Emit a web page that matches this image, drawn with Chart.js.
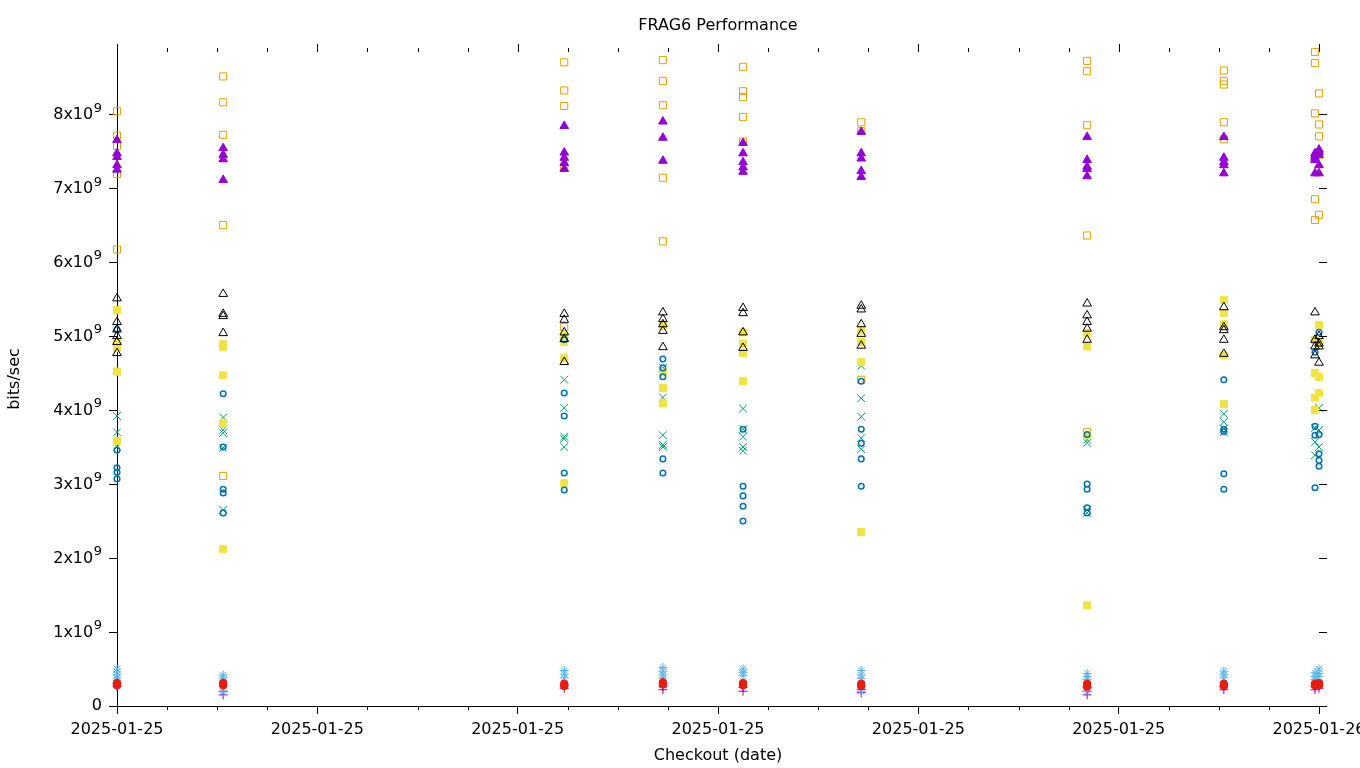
<!DOCTYPE html>
<html><head><meta charset="utf-8">
<script src="https://cdn.jsdelivr.net/npm/chart.js@4.4.0/dist/chart.umd.min.js"></script>
<style>html,body{margin:0;padding:0;background:#fff;overflow:hidden;}</style>
</head><body>
<canvas id="c" width="1360" height="768"></canvas>
<script>
// ---- text ----
const chartTitle = 'FRAG6 Performance';
const xAxisTitle = 'Checkout (date)';
const yAxisTitle = 'bits/sec';
const xTickLabels = ['2025-01-25','2025-01-25','2025-01-25','2025-01-25','2025-01-25','2025-01-25','2025-01-26'];
const yTickLabels = ['0','1x10^9','2x10^9','3x10^9','4x10^9','5x10^9','6x10^9','7x10^9','8x10^9'];

// ---- checkout times (hours after 2025-01-25 00:00) ----
const checkoutHours = [0, 2.12, 8.93, 10.9, 12.5, 14.86, 19.37, 22.1, 23.92, 24];

// ---- series values per checkout (units of 1e9 bits/sec) ----
const purplePlus = [[0.26,0.3],[0.15,0.2],[0.24,0.28],[0.22,0.26],[0.25,0.2],[0.22,0.18],[0.2,0.15,0.25],[0.22,0.26],[0.22,0.26],[0.24,0.28]];
const greenCross = [[3.92,3.70,3.5],[3.9,3.73,3.69,3.49,2.65],[4.41,4.03,3.64,3.61,3.5],[4.57,4.17,3.66,3.53,3.5],[4.02,3.74,3.64,3.5,3.45],[4.6,4.16,3.91,3.62,3.47],[3.6,3.56,2.65,2.61],[3.95,3.84,3.75,3.7],[3.76,3.57,3.39],[4.03,3.73,3.5]];
const skyStar = [[0.5,0.46,0.42,0.38,0.35],[0.42,0.38,0.35,0.19],[0.48,0.43,0.38],[0.52,0.47,0.42,0.38],[0.5,0.45,0.41],[0.48,0.42,0.37,0.2],[0.44,0.4,0.36,0.2],[0.47,0.42,0.38],[0.45,0.4,0.36],[0.5,0.44,0.4]];
const orangeSquare = [[8.04,7.71,7.57,7.19,6.17],[8.51,8.16,7.72,6.5,3.11],[8.70,8.32,8.11,7.28,5.12],[8.73,8.45,8.12,7.14,6.28],[8.64,8.31,8.23,7.96,7.63],[7.89,7.77,4.41],[8.72,8.58,7.85,6.36,3.70],[8.59,8.45,8.4,7.89,7.66],[8.84,8.69,8.01,6.85,6.57],[8.28,7.86,7.7,7.45,6.64]];
const yellowSquare = [[5.35,4.9,4.84,4.52,3.58],[4.89,4.85,4.47,3.82,2.12],[5.0,4.92,4.7,3.01],[5.14,4.51,4.3,4.09],[5.05,4.9,4.77,4.39],[5.08,4.92,4.65,2.35],[5.04,4.86,3.66,1.36],[5.49,5.31,5.16,4.74,4.08],[4.95,4.5,4.17,4.0],[5.15,4.9,4.45,4.23]];
const blueCircle = [[5.09,3.46,3.22,3.16,3.07],[4.22,3.5,2.93,2.88,2.61],[4.95,4.23,3.92,3.15,2.92],[4.69,4.57,4.45,3.34,3.15],[3.74,2.97,2.84,2.7,2.5],[4.39,3.74,3.55,3.34,2.97],[3.67,3.0,2.93,2.68,2.61],[4.41,3.74,3.71,3.14,2.93],[4.78,3.78,3.66,2.95],[5.05,3.67,3.41,3.32,3.24]];
const redDot = [[0.31,0.28],[0.31,0.28],[0.3,0.27],[0.32,0.29],[0.31,0.28],[0.3,0.27],[0.3,0.26],[0.3,0.27],[0.3,0.28],[0.31,0.28]];
const blackTriangle = [[5.51,5.19,5.09,5.0,4.92,4.77],[5.57,5.3,5.27,5.04],[5.3,5.22,5.05,4.96,4.65],[5.32,5.23,5.16,5.07,4.85],[5.38,5.31,5.05,4.84],[5.41,5.36,5.16,5.03,4.87],[5.44,5.28,5.19,5.1,4.95],[5.39,5.12,5.08,4.95,4.76],[5.32,4.95,4.86,4.74],[5.0,4.9,4.86,4.64]];
const purpleTriangle = [[7.65,7.47,7.42,7.31,7.25],[7.54,7.45,7.39,7.11],[7.84,7.48,7.41,7.34,7.26],[7.9,7.68,7.37],[7.61,7.47,7.35,7.28,7.22],[7.76,7.47,7.4,7.23,7.15],[7.69,7.38,7.29,7.26,7.16],[7.69,7.41,7.35,7.31,7.2],[7.47,7.44,7.41,7.38,7.2],[7.52,7.49,7.45,7.31,7.2]];

const yMax = 8.84;

function toPoints(cols) {
  return cols.flatMap((vals, i) => vals.map(v => ({x: checkoutHours[i], y: v})));
}

const seriesDefs = [
  {label:'Series 1', data: purplePlus,     style:'cross',    r:4.5, color:'#9400d3', fill:false},
  {label:'Series 2', data: greenCross,     style:'crossRot', r:5.5, color:'#009e73', fill:false},
  {label:'Series 3', data: skyStar,        style:'star',     r:4.5, color:'#56b4e9', fill:false},
  {label:'Series 4', data: orangeSquare,   style:'rect',     r:5,   color:'#e69f00', fill:false},
  {label:'Series 5', data: yellowSquare,   style:'rect',     r:5,   color:'#f0e442', fill:true},
  {label:'Series 6', data: blueCircle,     style:'circle',   r:2.8, color:'#0072b2', fill:false},
  {label:'Series 7', data: redDot,         style:'circle',   r:3.8, color:'#e51e10', fill:true},
  {label:'Series 8', data: blackTriangle,  style:'triangle', r:5,   color:'#000000', fill:false},
  {label:'Series 9', data: purpleTriangle, style:'triangle', r:5,   color:'#9400d3', fill:true}
];

const datasets = seriesDefs.map((s, i) => ({
  label: s.label,
  data: toPoints(s.data),
  showLine: false,
  pointStyle: s.style,
  pointRadius: s.r,
  pointHoverRadius: s.r,
  borderColor: s.color,
  backgroundColor: s.fill ? s.color : 'rgba(0,0,0,0)',
  borderWidth: s.style === 'circle' && !s.fill ? 1.5 : 1,
  order: seriesDefs.length - i,
  clip: false
}));

const FONT = "'DejaVu Sans', sans-serif";

const decorations = {
  id: 'decorations',
  afterDraw(chart) {
    const {ctx, chartArea: a, scales: {x, y}} = chart;
    ctx.save();
    // mirrored / minor ticks
    ctx.strokeStyle = '#000';
    ctx.lineWidth = 1;
    ctx.beginPath();
    for (let h = 0; h <= 24; h += 1) {
      const px = Math.round(x.getPixelForValue(h)) + 0.5;
      const major = h % 4 === 0;
      ctx.moveTo(px, a.top);
      ctx.lineTo(px, a.top - (major ? 8 : 4));
      if (!major) { ctx.moveTo(px, a.bottom); ctx.lineTo(px, a.bottom + 4); }
    }
    y.ticks.forEach(t => {
      const py = Math.round(y.getPixelForValue(t.value)) + 0.5;
      ctx.moveTo(a.right, py);
      ctx.lineTo(a.right + 8, py);
    });
    ctx.stroke();
    // title centred over the plot area
    ctx.fillStyle = '#000';
    ctx.font = '16px ' + FONT;
    ctx.textAlign = 'center';
    ctx.textBaseline = 'middle';
    ctx.fillText(chartTitle, (a.left + a.right) / 2, 26);
    // y tick labels with superscript exponent
    ctx.textBaseline = 'middle';
    y.ticks.forEach(t => {
      const label = yTickLabels[Math.round(t.value)];
      if (label === undefined) return;
      const py = y.getPixelForValue(t.value);
      const [base, exp] = label.split('^');
      const right = a.left - 15;
      ctx.textAlign = 'right';
      if (exp) {
        ctx.font = '13px ' + FONT;
        const ew = ctx.measureText(exp).width;
        ctx.fillText(exp, right, py - 6);
        ctx.font = '16px ' + FONT;
        ctx.fillText(base, right - ew - 0.5, py + 1);
      } else {
        ctx.font = '16px ' + FONT;
        ctx.fillText(base, right, py);
      }
    });
    ctx.restore();
  }
};

Chart.defaults.font.family = FONT;
Chart.defaults.font.size = 16;
Chart.defaults.color = '#000';

new Chart(document.getElementById('c'), {
  type: 'scatter',
  data: { datasets },
  options: {
    responsive: false,
    animation: false,
    events: [],
    layout: { padding: { left: 0, right: 41, top: 52, bottom: 0 } },
    plugins: {
      legend: { display: false },
      tooltip: { enabled: false },
      title: { display: false }
    },
    scales: {
      x: {
        type: 'linear', position: 'bottom', min: 0, max: 24,
        ticks: { stepSize: 4, autoSkip: false, maxRotation: 0, padding: 6, color: '#000',
                 callback: v => xTickLabels[Math.round(v / 4)] ?? '' },
        grid: { display: true, drawOnChartArea: false, drawTicks: true, tickLength: 8, tickColor: '#000', lineWidth: 1 },
        border: { display: true, color: '#000', width: 1 },
        title: { display: true, text: xAxisTitle, color: '#000', padding: { top: 0, bottom: 3 } },
        afterFit: s => { s.height = 62; s.paddingLeft = 0; s.paddingRight = 0; }
      },
      y: {
        type: 'linear', position: 'left', min: 0, max: yMax,
        ticks: { stepSize: 1, includeBounds: false, padding: 6, color: 'rgba(0,0,0,0)',
                 callback: v => yTickLabels[Math.round(v)] ?? '' },
        grid: { display: true, drawOnChartArea: false, drawTicks: true, tickLength: 8, tickColor: '#000', lineWidth: 1 },
        border: { display: true, color: '#000', width: 1 },
        title: { display: true, text: yAxisTitle, color: '#000', padding: { top: 5, bottom: 0 } },
        afterFit: s => { s.width = 117; s.paddingTop = 0; s.paddingBottom = 0; }
      }
    }
  },
  plugins: [decorations]
});
</script>
</body></html>
